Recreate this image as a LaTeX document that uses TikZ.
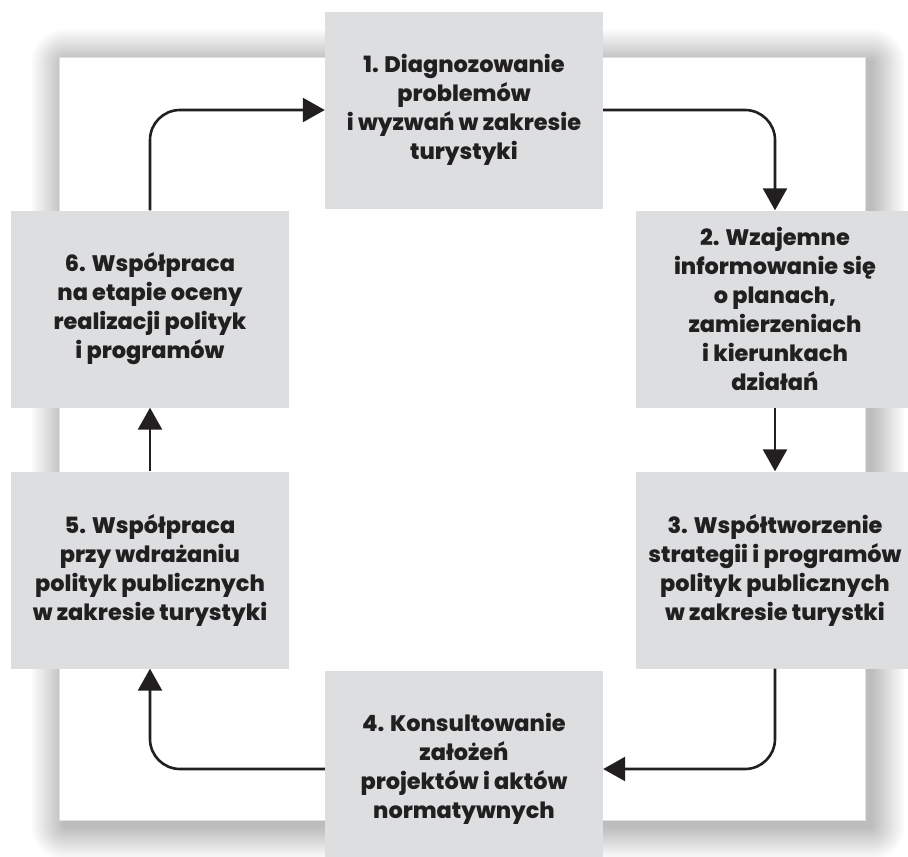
\documentclass[tikz,border=0pt]{standalone}
\usepackage{fontspec}
\setmainfont{Poppins}[BoldFont={Poppins ExtraBold}]
\usetikzlibrary{arrows.meta}

\definecolor{boxgray}{RGB}{221,222,224}
\definecolor{ink}{RGB}{34,31,32}

\begin{document}
\begin{tikzpicture}[x=1pt, y=-1pt, >={Triangle[length=22pt, width=24pt]},
    box/.style={fill=boxgray, minimum width=278pt, minimum height=197pt, inner sep=0pt,
        align=center, text=ink, font=\fontsize{22.4}{29}\selectfont\bfseries},
    flow/.style={->, draw=ink, line width=2.6pt, rounded corners=30pt}]
    \useasboundingbox (0,0) rectangle (908,857);
    \clip (0,0) rectangle (908,857);

    % Shadow and white panel
    \foreach \r in {1,2,...,34}
        \fill[black, opacity=0.007, rounded corners=\r pt] ({65-\r},{63-\r}) rectangle ({871+\r},{826+\r});
    \fill[white, draw=black!12, line width=0.6pt] (59,57) rectangle (865,820);

    % Define boxes
    \node[box] (b1) at (464,110) {1. Diagnozowanie\\problemów\\i wyzwań w zakresie\\turystyki};
    \node[box] (b2) at (775,309) {2. Wzajemne\\informowanie się\\o planach,\\zamierzeniach\\i kierunkach\\działań};
    \node[box] (b3) at (775,570) {3. Współtworzenie\\strategii i programów\\polityk publicznych\\w zakresie turystki};
    \node[box] (b4) at (464,769) {4. Konsultowanie\\założeń\\projektów i aktów\\normatywnych};
    \node[box] (b5) at (150,570) {5. Współpraca\\przy wdrażaniu\\polityk publicznych\\w zakresie turystyki};
    \node[box] (b6) at (150,309) {6. Współpraca\\na etapie oceny\\realizacji polityk\\i programów};

    % Draw arrows
    \draw[flow] (b1.east) -| (b2.north); % 1 -> 2
    \draw[flow] (b2) -- (b3); % 2 -> 3
    \draw[flow] (b3.south) |- (b4.east); % 3 -> 4
    \draw[flow] (b4.west) -| (b5.south); % 4 -> 5
    \draw[flow] (b5) -- (b6); % 5 -> 6
    \draw[flow] (b6.north) |- (b1.west); % 6 -> 1
\end{tikzpicture}
\end{document}
